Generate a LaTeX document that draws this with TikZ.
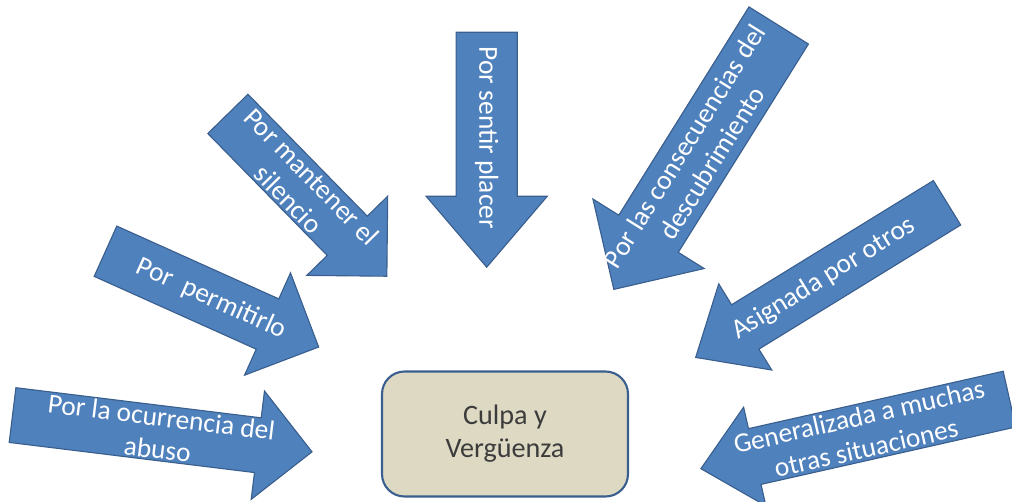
\documentclass[tikz,border=0pt]{standalone}
\usepackage{fontspec}
\setmainfont{Carlito}
\usetikzlibrary{shapes.arrows}
\definecolor{arrowblue}{HTML}{4F81BD}
\definecolor{arrowline}{HTML}{3A5F8E}
\definecolor{boxtan}{HTML}{DDD9C3}
\definecolor{boxtext}{HTML}{3C3C3C}
\newlength\pxu
\setlength\pxu{0.025cm}
% shaft text: width of shaft, length of shaft, shift towards the tip, text
\newcommand\shafttext[4]{\parbox[c][#1\pxu][c]{#2\pxu}{\centering\leftskip=#3\pxu plus 1fil #4}}

\begin{document}
\begin{tikzpicture}[
  x=0.025cm, y=-0.025cm,
  every node/.style={font=\fontsize{19.5}{23}\selectfont},
  blockarrow/.style={single arrow, draw=arrowline, fill=arrowblue, line width=0.8pt, text=white, inner sep=0pt, minimum width=0pt, minimum height=0pt, anchor=tail},
  causebox/.style={rectangle, rounded corners=16pt, draw=arrowline, line width=1.5pt, fill=boxtan, text=boxtext, minimum width=246*0.025cm, minimum height=125*0.025cm, font=\fontsize{20}{23.5}\selectfont}
]
\useasboundingbox (0,0) rectangle (1012,501);

% Centre box
\node[causebox] (culpa) at (505,434)
  {\raisebox{-6\pxu}{\parbox{200\pxu}{\centering Culpa y\\Vergüenza}}};

% Arrows from the left
\node[blockarrow, rotate=-7, single arrow head extend=27*0.025cm] (abuso) at (12,415)
  {\shafttext{54}{273}{22}{Por la ocurrencia del\\abuso}};
\node[blockarrow, rotate=-24.2, single arrow head extend=28.5*0.025cm] (permitir) at (105,251)
  {\shafttext{54}{205}{26}{Por~~permitirlo}};
\node[blockarrow, rotate=-45.6, single arrow head extend=28.5*0.025cm] (silencio) at (227.5,113.5)
  {\shafttext{55}{198}{8}{Por mantener el\\silencio}};

% Arrow from the top
\node[blockarrow, rotate=-90, single arrow head extend=30*0.025cm, single arrow tip angle=81] (placer) at (486.7,31.7)
  {\shafttext{60}{198}{12}{Por sentir placer}};

% Arrows from the right
\node[blockarrow, rotate=58, shape border rotate=180, single arrow head extend=30.5*0.025cm] (descubre) at (779,25)
  {\shafttext{69}{275}{-28}{Por las consecuencias del\\descubrimiento}};
\node[blockarrow, rotate=31.6, shape border rotate=180, single arrow head extend=24.5*0.025cm, single arrow tip angle=82] (otros) at (947.5,202.5)
  {\shafttext{51}{264}{-24}{Asignada por otros}};
\node[blockarrow, rotate=12.7, shape border rotate=180, single arrow head extend=22*0.025cm, single arrow tip angle=85] (general) at (1010,399)
  {\shafttext{56}{284}{-16}{Generalizada a muchas\\otras situaciones}};

\end{tikzpicture}
\end{document}
